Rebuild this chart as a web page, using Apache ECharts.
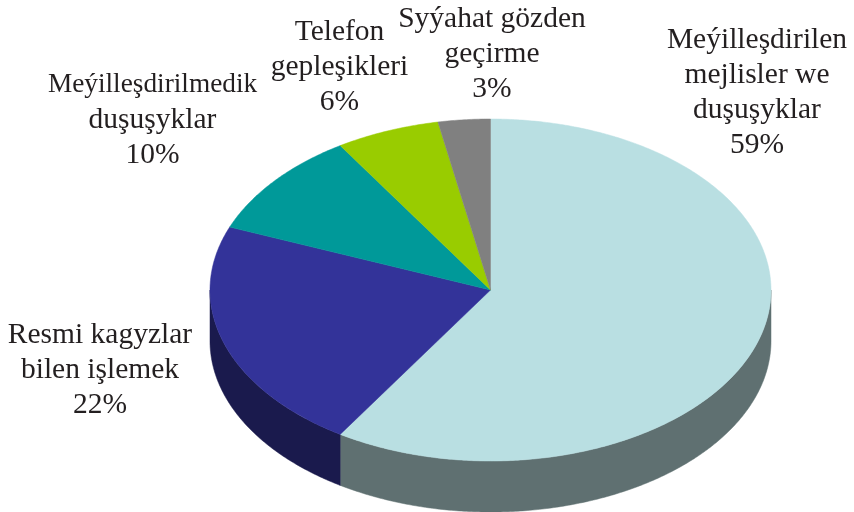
<!DOCTYPE html>
<html>
<head>
<meta charset="utf-8">
<title>Pie</title>
<script src="https://cdn.jsdelivr.net/npm/echarts@6/dist/echarts.min.js"></script>
<style>
  html, body { margin: 0; padding: 0; background: #fff; }
  #chart { width: 854px; height: 512px; }
</style>
</head>
<body>
<div id="chart"></div>
<script>
// data, clockwise from the top of the pie
const names = [
  'Meýilleşdirilen\nmejlisler we\nduşuşyklar',
  'Resmi kagyzlar\nbilen işlemek',
  'Meýilleşdirilmedik\nduşuşyklar',
  'Telefon\ngepleşikleri',
  'Syýahat gözden\ngeçirme'
];
const shares = [59, 22, 10, 6, 3];

const topColors = ['#b9dfe2', '#333399', '#009999', '#99cc00', '#808080'];
const wallColors = ['#5f7071', '#1a1a4d', '#004d4d', '#4d6600', '#404040'];

// ellipse of the tilted pie
const cx = 490.5, cy = 290, rx = 280.5, ry = 171, depth = 51;
// centre x and first baseline of every label
const labelX = [757, 100, 152.5, 339.5, 492];
const labelBase = [49, 344, 94, 41, 28];
const lineH = 35;
const fontSize = 29.5;
// this line is set tighter than the rest in the original
const tightLine = 'Meýilleşdirilmedik';

const total = shares.reduce((a, b) => a + b, 0);
const starts = [];
shares.reduce((sum, v, i) => { starts[i] = sum; return sum + v; }, 0);

function toDeg(v) { return v / total * 360; }

function rimPoint(deg, dy) {
  const a = deg * Math.PI / 180;
  return [cx + rx * Math.sin(a), cy - ry * Math.cos(a) + dy];
}

function arcPoints(from, to, dy) {
  const pts = [];
  const steps = Math.max(2, Math.ceil((to - from) * 2));
  for (let i = 0; i <= steps; i++) {
    pts.push(rimPoint(from + (to - from) * i / steps, dy));
  }
  return pts;
}

// only the front half of the side (90..270 deg) can be seen
function renderWall(params, api) {
  const i = params.dataIndex;
  const from = Math.max(toDeg(starts[i]), 90);
  const to = Math.min(toDeg(starts[i] + api.value(0)), 270);
  if (to <= from) return null;
  const pts = arcPoints(from, to, 0).concat(arcPoints(from, to, depth).reverse());
  return {
    type: 'polygon',
    shape: { points: pts },
    style: { fill: wallColors[i], stroke: wallColors[i], lineWidth: 0.5 }
  };
}

function renderTop(params, api) {
  const i = params.dataIndex;
  const from = toDeg(starts[i]);
  const to = toDeg(starts[i] + api.value(0));
  const pts = [[cx, cy]].concat(arcPoints(from, to, 0));
  return {
    type: 'polygon',
    shape: { points: pts },
    style: { fill: topColors[i], stroke: topColors[i], lineWidth: 0.5 }
  };
}

function renderLabel(params, api) {
  const i = params.dataIndex;
  const lines = (names[i] + '\n' + api.value(0) + '%').split('\n');
  return {
    type: 'group',
    children: lines.map((line, j) => ({
      type: 'text',
      x: labelX[i],
      y: labelBase[i] + j * lineH - 9,
      style: {
        text: line,
        fill: '#231f20',
        font: (line === tightLine ? 27.3 : fontSize) + 'px "Liberation Serif"',
        align: 'center',
        verticalAlign: 'middle'
      }
    }))
  };
}

const chart = echarts.init(document.getElementById('chart'), null, { renderer: 'canvas' });
chart.setOption({
  animation: false,
  backgroundColor: '#fff',
  series: [
    { type: 'custom', coordinateSystem: 'none', z: 1, data: shares, renderItem: renderWall, silent: true },
    { type: 'custom', coordinateSystem: 'none', z: 2, data: shares, renderItem: renderTop, silent: true },
    { type: 'custom', coordinateSystem: 'none', z: 3, data: shares, renderItem: renderLabel, silent: true }
  ]
});
</script>
</body>
</html>
